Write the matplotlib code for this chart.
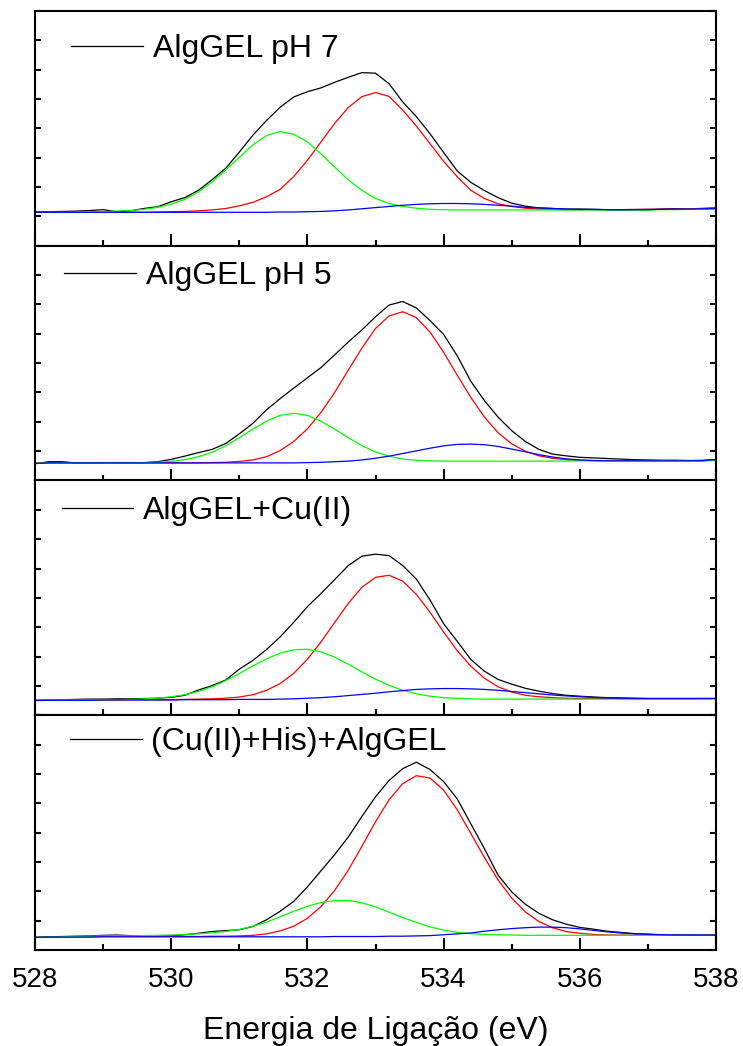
import matplotlib
matplotlib.use("Agg")
import matplotlib.pyplot as plt
from matplotlib.ticker import MultipleLocator

plt.rcParams['font.family'] = ['Liberation Sans', 'DejaVu Sans']

# energia de ligação (eV), passo 0.2
energy = [528.0, 528.2, 528.4, 528.6, 528.8, 529.0, 529.2, 529.4, 529.6, 529.8,
          530.0, 530.2, 530.4, 530.6, 530.8, 531.0, 531.2, 531.4, 531.6, 531.8,
          532.0, 532.2, 532.4, 532.6, 532.8, 533.0, 533.2, 533.4, 533.6, 533.8,
          534.0, 534.2, 534.4, 534.6, 534.8, 535.0, 535.2, 535.4, 535.6, 535.8,
          536.0, 536.2, 536.4, 536.6, 536.8, 537.0, 537.2, 537.4, 537.6, 537.8,
          538.0]

labels = ['AlgGEL pH 7', 'AlgGEL pH 5', 'AlgGEL+Cu(II)', '(Cu(II)+His)+AlgGEL']

# ===== AlgGEL pH 7 =====
black_ph7 = [1.16, 1.16, 1.17, 1.18, 1.20, 1.23, 1.16, 1.19, 1.27, 1.33,
             1.50, 1.64, 1.89, 2.25, 2.64, 3.19, 3.77, 4.27, 4.72, 5.07,
             5.25, 5.38, 5.57, 5.74, 5.90, 5.88, 5.52, 4.90, 4.40, 3.82,
             3.18, 2.55, 2.16, 1.88, 1.64, 1.45, 1.35, 1.29, 1.27, 1.25,
             1.25, 1.24, 1.23, 1.22, 1.23, 1.22, 1.25, 1.26, 1.26, 1.27,
             1.29]
red_ph7 = [1.14, 1.14, 1.14, 1.14, 1.14, 1.14, 1.14, 1.14, 1.14, 1.15,
           1.16, 1.17, 1.19, 1.22, 1.27, 1.36, 1.48, 1.67, 1.92, 2.36,
           2.91, 3.54, 4.17, 4.71, 5.08, 5.22, 5.09, 4.62, 4.08, 3.48,
           2.88, 2.35, 1.89, 1.61, 1.43, 1.34, 1.28, 1.25, 1.24, 1.23,
           1.23, 1.23, 1.23, 1.23, 1.24, 1.24, 1.25, 1.25, 1.26, 1.27,
           1.29]
green_ph7 = [1.14, 1.14, 1.14, 1.14, 1.15, 1.16, 1.18, 1.20, 1.24, 1.31,
             1.42, 1.58, 1.84, 2.17, 2.58, 3.01, 3.44, 3.76, 3.89, 3.80,
             3.54, 3.13, 2.68, 2.25, 1.89, 1.61, 1.44, 1.34, 1.28, 1.24,
             1.23, 1.22, 1.22, 1.22, 1.22, 1.22, 1.22, 1.22, 1.22, 1.22,
             1.22, 1.22, 1.22, 1.22, 1.22, 1.22, 1.23, 1.23, 1.24, 1.24,
             1.25]
blue_ph7 = [1.14, 1.14, 1.14, 1.14, 1.14, 1.14, 1.14, 1.14, 1.14, 1.14,
            1.14, 1.14, 1.14, 1.14, 1.14, 1.14, 1.14, 1.14, 1.15, 1.15,
            1.16, 1.17, 1.19, 1.22, 1.26, 1.30, 1.34, 1.38, 1.41, 1.43,
            1.44, 1.44, 1.43, 1.41, 1.38, 1.35, 1.31, 1.29, 1.27, 1.25,
            1.24, 1.24, 1.23, 1.23, 1.23, 1.24, 1.24, 1.25, 1.25, 1.26,
            1.27]

# ===== AlgGEL pH 5 =====
black_ph5 = [0.57, 0.64, 0.64, 0.60, 0.60, 0.61, 0.61, 0.61, 0.61, 0.64,
             0.72, 0.83, 0.95, 1.06, 1.26, 1.59, 1.95, 2.41, 2.79, 3.15,
             3.50, 3.85, 4.28, 4.72, 5.13, 5.58, 5.98, 6.10, 5.88, 5.45,
             4.98, 4.25, 3.38, 2.72, 2.16, 1.70, 1.33, 1.06, 0.90, 0.84,
             0.79, 0.77, 0.75, 0.73, 0.71, 0.70, 0.69, 0.69, 0.68, 0.67,
             0.72]
red_ph5 = [0.59, 0.60, 0.60, 0.60, 0.60, 0.60, 0.60, 0.60, 0.60, 0.60,
           0.60, 0.60, 0.60, 0.61, 0.62, 0.65, 0.70, 0.81, 1.02, 1.33,
           1.76, 2.32, 3.00, 3.76, 4.51, 5.18, 5.61, 5.75, 5.55, 5.06,
           4.37, 3.59, 2.83, 2.16, 1.63, 1.25, 1.00, 0.84, 0.76, 0.71,
           0.69, 0.68, 0.68, 0.68, 0.68, 0.68, 0.68, 0.68, 0.68, 0.69,
           0.71]
green_ph5 = [0.59, 0.60, 0.60, 0.60, 0.60, 0.60, 0.60, 0.60, 0.61, 0.62,
             0.65, 0.71, 0.81, 0.96, 1.18, 1.46, 1.75, 2.02, 2.22, 2.29,
             2.22, 2.02, 1.75, 1.46, 1.19, 0.97, 0.83, 0.73, 0.69, 0.67,
             0.66, 0.66, 0.66, 0.66, 0.66, 0.66, 0.66, 0.66, 0.66, 0.66,
             0.67, 0.67, 0.67, 0.67, 0.67, 0.67, 0.67, 0.67, 0.67, 0.67,
             0.68]
blue_ph5 = [0.58, 0.60, 0.60, 0.60, 0.60, 0.60, 0.60, 0.60, 0.60, 0.60,
            0.60, 0.60, 0.60, 0.60, 0.60, 0.60, 0.60, 0.60, 0.60, 0.60,
            0.61, 0.62, 0.64, 0.66, 0.70, 0.76, 0.83, 0.92, 1.01, 1.10,
            1.18, 1.23, 1.24, 1.22, 1.16, 1.07, 0.98, 0.88, 0.80, 0.74,
            0.70, 0.68, 0.67, 0.67, 0.67, 0.67, 0.67, 0.67, 0.67, 0.68,
            0.71]

# ===== AlgGEL+Cu(II) =====
black_cu = [0.51, 0.52, 0.53, 0.54, 0.55, 0.55, 0.56, 0.56, 0.57, 0.58,
            0.61, 0.68, 0.86, 1.01, 1.20, 1.57, 1.87, 2.24, 2.67, 3.17,
            3.70, 4.15, 4.62, 5.10, 5.42, 5.49, 5.44, 5.10, 4.64, 3.93,
            3.12, 2.52, 1.90, 1.50, 1.22, 1.06, 0.92, 0.82, 0.74, 0.68,
            0.65, 0.62, 0.60, 0.59, 0.58, 0.57, 0.57, 0.57, 0.57, 0.57,
            0.57]
red_cu = [0.51, 0.52, 0.52, 0.52, 0.52, 0.52, 0.52, 0.53, 0.53, 0.53,
          0.53, 0.54, 0.55, 0.56, 0.58, 0.62, 0.70, 0.85, 1.08, 1.43,
          1.91, 2.50, 3.16, 3.81, 4.36, 4.70, 4.77, 4.57, 4.12, 3.51,
          2.84, 2.20, 1.67, 1.26, 0.97, 0.79, 0.68, 0.63, 0.60, 0.58,
          0.57, 0.57, 0.57, 0.57, 0.57, 0.57, 0.57, 0.57, 0.57, 0.57,
          0.57]
green_cu = [0.51, 0.52, 0.52, 0.52, 0.52, 0.53, 0.53, 0.54, 0.56, 0.58,
            0.63, 0.70, 0.81, 0.97, 1.18, 1.42, 1.68, 1.92, 2.12, 2.23,
            2.25, 2.16, 1.98, 1.74, 1.48, 1.23, 1.02, 0.85, 0.73, 0.65,
            0.60, 0.58, 0.56, 0.55, 0.55, 0.55, 0.55, 0.55, 0.55, 0.55,
            0.55, 0.55, 0.55, 0.55, 0.55, 0.55, 0.55, 0.55, 0.55, 0.56,
            0.57]
blue_cu = [0.50, 0.51, 0.51, 0.51, 0.51, 0.52, 0.52, 0.52, 0.52, 0.52,
           0.52, 0.53, 0.53, 0.53, 0.53, 0.54, 0.54, 0.54, 0.55, 0.56,
           0.58, 0.60, 0.63, 0.67, 0.71, 0.75, 0.80, 0.84, 0.88, 0.90,
           0.91, 0.91, 0.90, 0.88, 0.85, 0.81, 0.77, 0.73, 0.69, 0.66,
           0.63, 0.61, 0.59, 0.58, 0.57, 0.57, 0.57, 0.57, 0.57, 0.57,
           0.57]

# ===== (Cu(II)+His)+AlgGEL =====
black_his = [0.43, 0.45, 0.46, 0.47, 0.48, 0.50, 0.51, 0.49, 0.48, 0.48,
             0.49, 0.52, 0.57, 0.63, 0.66, 0.69, 0.80, 1.03, 1.32, 1.66,
             2.15, 2.70, 3.25, 3.85, 4.55, 5.22, 5.78, 6.18, 6.40, 6.15,
             5.74, 5.15, 4.30, 3.45, 2.55, 1.98, 1.56, 1.25, 1.03, 0.88,
             0.77, 0.71, 0.64, 0.60, 0.56, 0.54, 0.52, 0.51, 0.51, 0.51,
             0.51]
red_his = [0.43, 0.44, 0.44, 0.45, 0.45, 0.46, 0.46, 0.46, 0.46, 0.46,
           0.46, 0.46, 0.46, 0.47, 0.47, 0.48, 0.50, 0.55, 0.65, 0.81,
           1.08, 1.48, 2.03, 2.72, 3.53, 4.37, 5.12, 5.67, 5.94, 5.86,
           5.45, 4.78, 3.97, 3.15, 2.39, 1.77, 1.30, 0.97, 0.76, 0.63,
           0.57, 0.53, 0.51, 0.51, 0.50, 0.50, 0.50, 0.50, 0.50, 0.50,
           0.51]
green_his = [0.43, 0.44, 0.45, 0.46, 0.47, 0.48, 0.48, 0.48, 0.49, 0.50,
             0.51, 0.53, 0.55, 0.59, 0.63, 0.70, 0.81, 0.95, 1.13, 1.32,
             1.49, 1.62, 1.68, 1.69, 1.61, 1.47, 1.29, 1.11, 0.94, 0.79,
             0.68, 0.60, 0.56, 0.53, 0.52, 0.51, 0.50, 0.50, 0.50, 0.50,
             0.50, 0.50, 0.50, 0.50, 0.50, 0.50, 0.50, 0.50, 0.50, 0.51,
             0.51]
blue_his = [0.43, 0.44, 0.44, 0.44, 0.44, 0.45, 0.45, 0.45, 0.45, 0.45,
            0.45, 0.45, 0.45, 0.45, 0.45, 0.45, 0.45, 0.45, 0.45, 0.45,
            0.45, 0.45, 0.46, 0.46, 0.46, 0.46, 0.47, 0.47, 0.48, 0.49,
            0.52, 0.55, 0.58, 0.64, 0.69, 0.73, 0.76, 0.78, 0.78, 0.76,
            0.72, 0.67, 0.62, 0.58, 0.55, 0.535, 0.52, 0.51, 0.51, 0.51,
            0.51]

panels = [
    (black_ph7, red_ph7, green_ph7, blue_ph7),
    (black_ph5, red_ph5, green_ph5, blue_ph5),
    (black_cu, red_cu, green_cu, blue_cu),
    (black_his, red_his, green_his, blue_his),
]
# posição da legenda (coordenadas do eixo)
leg_pos = [(0.053, 0.838), (0.043, 0.872), (0.039, 0.870), (0.051, 0.884)]

fig, axes = plt.subplots(4, 1, sharex=True, figsize=(7.43, 10.46), dpi=100)
fig.subplots_adjust(left=35/743, right=716/743, top=1-11/1046,
                    bottom=1-950/1046, hspace=0)

for ax, (blk, red, grn, blu), lab, pos in zip(axes, panels, labels, leg_pos):
    line, = ax.plot(energy, blk, color='black', lw=0.9)
    ax.plot(energy, red, color='#ff0000', lw=0.9)
    ax.plot(energy, grn, color='#00ff00', lw=0.9)
    ax.plot(energy, blu, color='#0000ff', lw=0.9)

    ax.set_xlim(528, 538)
    ax.set_ylim(0, 8)
    ax.xaxis.set_major_locator(MultipleLocator(2))
    ax.xaxis.set_minor_locator(MultipleLocator(1))
    ax.yaxis.set_major_locator(MultipleLocator(1))
    ax.tick_params(axis='x', which='major', direction='in', length=9,
                   width=1.5, top=False, labelsize=20, pad=12)
    ax.tick_params(axis='x', which='minor', direction='in', length=4.5,
                   width=1.5, top=False)
    ax.tick_params(axis='y', which='major', direction='in', length=4.5,
                   width=1.5, left=True, right=True, labelleft=False)
    for sp in ax.spines.values():
        sp.set_linewidth(1.5)

    ax.legend([line], [lab], loc='center left', bbox_to_anchor=pos,
              frameon=False, fontsize=23, handlelength=2.25,
              handletextpad=0.3, borderpad=0, borderaxespad=0)

axes[-1].set_xlabel('Energia de Ligação (eV)', fontsize=23, labelpad=17)

plt.savefig('out.png', dpi=100)
